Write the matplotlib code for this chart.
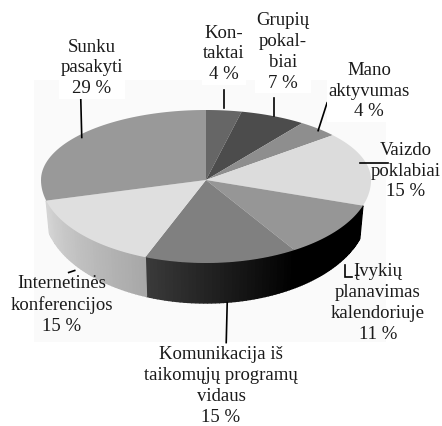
import numpy as np
import matplotlib
matplotlib.use('Agg')
import matplotlib.pyplot as plt

# slices, clockwise from the top
names = ['Kon-\ntaktai', 'Grupių\npokal-\nbiai', 'Mano\naktyvumas', 'Vaizdo\npoklabiai',
         'Įvykių\nplanavimas\nkalendoriuje', 'Komunikacija iš\ntaikomųjų programų\nvidaus',
         'Internetinės\nkonferencijos', 'Sunku\npasakyti']
shares = [4, 7, 4, 15, 11, 15, 15, 29]

top_colors = ['#666666', '#4c4c4c', '#8e8e8e', '#dcdcdc', '#969696', '#808080', '#dfdfdf', '#999999']
# side colour at start/end of slice (only the front ones show)
side_colors = {4: ('#000000', '#000000'), 5: ('#000000', '#3a3a3a'), 6: ('#a8a8a8', '#d4d4d4')}

# label centres in pixels
label_pos = [(224, 54), (283, 52), (369, 91), (406, 171), (378, 303), (221, 386), (62, 305), (92, 68)]
# leader lines as offsets from rim point at slice middle
leaders = [[(0, -20), (0, -2)], [(2, -18), (2, 0)], [(15, -26), (9, -26), (0, 2)],
           [(-8, -5), (20, -5)], [(11, -2), (11, 10), (18, 10)], [(6, 0), (5, 40)],
           [(-16, 1), (-10, -1)], [(-2, -35), (-1, 4)]]

cx, cy = 206, 180
rx, ry_up, ry_down = 165, 70, 83


def rim(deg, lower=False):
    t = np.radians(deg)
    # far half looks squeezed towards the top in the 3d view
    t = t - np.where(np.cos(t) > 0, np.radians(4) * np.sin(2 * t), 0)
    c = np.cos(t)
    ry = np.where(c > 0, ry_up, ry_down)
    if lower:
        return cx + rx * 0.98 * np.sin(t), cy - ry * c + 30 + 10 * np.maximum(-c, 0)
    return cx + rx * np.sin(t), cy - ry * c


fig = plt.figure(figsize=(4.42, 4.26), dpi=100)
ax = fig.add_axes([0, 0, 1, 1])
ax.set_xlim(0, 442)
ax.set_ylim(426, 0)
ax.axis('off')

plt.rcParams['font.family'] = ['Liberation Serif', 'DejaVu Serif']

ax.fill([34, 386, 386, 34], [80, 80, 342, 342], color='#fafafa', lw=0, zorder=0)

edges = np.cumsum([0] + shares) * 3.6

# side first
for i, (a, b) in enumerate(zip(edges[:-1], edges[1:])):
    if i not in side_colors:
        continue
    a2, b2 = max(a, 90), min(b, 270)
    c0 = np.array(matplotlib.colors.to_rgb(side_colors[i][0]))
    c1 = np.array(matplotlib.colors.to_rgb(side_colors[i][1]))
    angs = np.linspace(a2, b2, 40)
    for j in range(len(angs) - 1):
        xt, yt = rim(angs[j:j + 2])
        xb, yb = rim(angs[j:j + 2], lower=True)
        col = c0 + (c1 - c0) * j / (len(angs) - 2)
        ax.fill(list(xt) + list(xb[::-1]), list(yt) + list(yb[::-1]), facecolor=col, edgecolor=col,
                lw=1.0, zorder=2)

# top slices
for i, (a, b) in enumerate(zip(edges[:-1], edges[1:])):
    angs = np.linspace(a, b, 60)
    x, y = rim(angs)
    ax.fill([cx] + list(x), [cy] + list(y), color=top_colors[i], lw=0, zorder=3)

# leader lines and labels
for i, name in enumerate(names):
    mid = (edges[i] + edges[i + 1]) / 2
    low = i in (4, 5, 6)
    rx0, ry0 = rim(mid, lower=low)
    ax.plot([rx0 + p[0] for p in leaders[i]], [ry0 + p[1] for p in leaders[i]],
            color='black', lw=1.2, zorder=5, solid_joinstyle='miter')
    ax.text(label_pos[i][0], label_pos[i][1], f'{name}\n{shares[i]} %', ha='center', va='center',
            fontsize=13.5, linespacing=1.3, color='#1a1a1a', zorder=6,
            bbox=dict(facecolor='white', edgecolor='none', pad=1) if i in (0, 1, 2, 7) else None)

fig.savefig('out.png', dpi=100)
